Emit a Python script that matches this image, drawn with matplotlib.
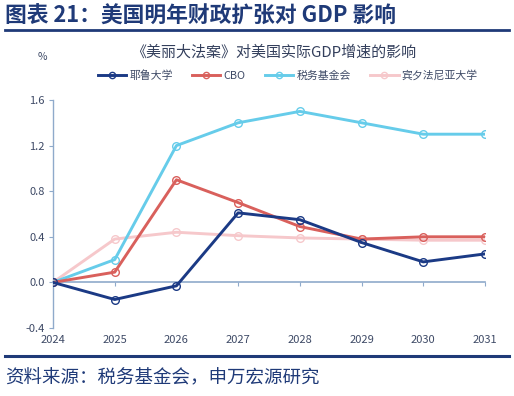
import matplotlib
matplotlib.use("Agg")
import matplotlib.pyplot as plt
from matplotlib.lines import Line2D

plt.rcParams['font.family'] = ['Noto Sans CJK SC', 'DejaVu Sans']

years = [2024, 2025, 2026, 2027, 2028, 2029, 2030, 2031]
series_names = ["耶鲁大学", "CBO", "税务基金会", "宾夕法尼亚大学"]
yale = [0.0, -0.15, -0.03, 0.61, 0.55, 0.35, 0.18, 0.25]
cbo = [0.0, 0.09, 0.90, 0.70, 0.49, 0.38, 0.40, 0.40]
taxf = [0.0, 0.20, 1.20, 1.40, 1.50, 1.40, 1.30, 1.30]
penn = [0.0, 0.38, 0.44, 0.41, 0.39, 0.38, 0.37, 0.37]
yticks = [-0.4, 0.0, 0.4, 0.8, 1.2, 1.6]

colors = ["#1B3A85", "#D9605C", "#66CCEA", "#F6C8CB"]
navy = "#1F3A78"
axis_col = "#8FAACB"
tick_col = "#3E4A66"

fig = plt.figure(figsize=(5.14, 3.96), dpi=100)
ax = fig.add_axes([0.1031, 0.1717, 0.8405, 0.5758])

order = [(penn, 3), (taxf, 2), (cbo, 1), (yale, 0)]
for data, i in order:
    ax.plot(years, data, color=colors[i], lw=2.1, marker='o', ms=5.5,
            mfc='none', mec=colors[i], mew=1.0, zorder=3 + (3 - i) * 0.1,
            solid_joinstyle='round')

ax.set_xlim(2024, 2031)
ax.set_ylim(-0.4, 1.6)
ax.set_yticks(yticks)
ax.set_yticklabels([f"{v:.1f}" for v in yticks])
ax.set_xticks(years)
ax.set_xticklabels([str(y) for y in years])

for s in ['top', 'right', 'bottom']:
    ax.spines[s].set_visible(False)
ax.spines['left'].set_color(axis_col)
ax.spines['left'].set_linewidth(1.0)
ax.tick_params(axis='y', colors=axis_col, labelcolor=tick_col, labelsize=8,
               length=3, direction='out', pad=3)
ax.tick_params(axis='x', length=0, labelcolor=tick_col, labelsize=8, pad=5)

sec = ax.secondary_xaxis(0.2)
sec.set_xticks(years)
sec.set_xticklabels([])
sec.spines['bottom'].set_color(axis_col)
sec.spines['bottom'].set_linewidth(1.2)
sec.tick_params(axis='x', colors=axis_col, length=3, direction='out')

handles = [Line2D([], [], color=colors[i], lw=2.1, marker='o', ms=4.5,
                  mfc='none', mec=colors[i], mew=1.0) for i in range(4)]
fig.legend(handles, series_names, loc='center', bbox_to_anchor=(0.56, 0.81),
           ncol=4, frameon=False, fontsize=7.8, handlelength=2.6,
           columnspacing=1.8, handletextpad=0.3, labelcolor=tick_col)

fig.text(0.010, 0.960, "图表 21：美国明年财政扩张对 GDP 影响", fontsize=15.7,
         fontweight='bold', color=navy, va='center', ha='left')
fig.add_artist(Line2D([0.01, 0.99], [0.924, 0.924], color=navy, lw=2.0,
                      transform=fig.transFigure))
fig.text(0.533, 0.868, "《美丽大法案》对美国实际GDP增速的影响", fontsize=10.8,
         color="#333F5C", ha='center', va='center')
fig.text(0.082, 0.856, "%", fontsize=7.5, color=tick_col, ha='center', va='center')
fig.add_artist(Line2D([0.01, 0.99], [0.101, 0.101], color=navy, lw=2.2,
                      transform=fig.transFigure))
fig.text(0.010, 0.045, "资料来源：税务基金会，申万宏源研究", fontsize=13.3,
         color=navy, ha='left', va='center')

fig.savefig("out.png", dpi=100)
